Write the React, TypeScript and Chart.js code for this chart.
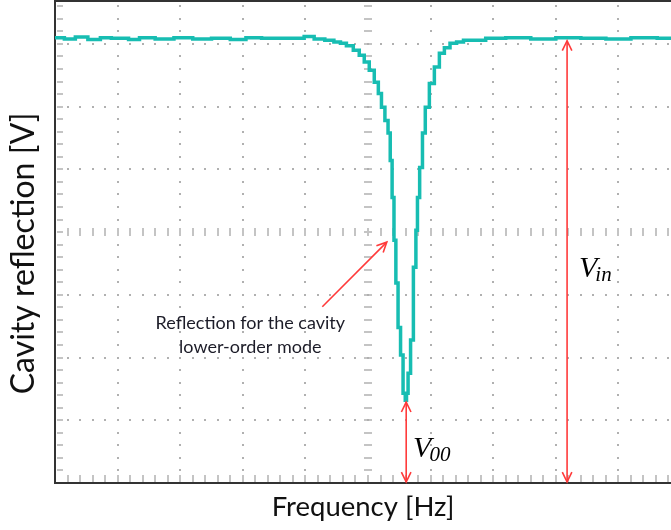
import { useEffect, useRef } from "react";
import { Chart, registerables } from "chart.js";

Chart.register(...registerables);

// Horizontal position in scope divisions (frequency sweep)
const frequency = [
  0.0, 0.3, 0.35, 0.7, 0.75, 1.05, 1.3, 1.4, 1.8, 2.0, 2.4, 2.6, 3.0, 3.1, 3.5, 3.91,
  4.05, 4.23, 4.39, 4.52, 4.6, 4.71, 4.82, 4.9, 4.98, 5.06, 5.14, 5.19, 5.24, 5.3, 5.34,
  5.37, 5.4, 5.43, 5.46, 5.5, 5.54, 5.58, 5.61, 5.62, 5.66, 5.7, 5.75, 5.78, 5.8, 5.85,
  5.89, 5.94, 6.02, 6.1, 6.18, 6.26, 6.36, 6.47, 6.58, 6.76, 7.0, 7.4, 7.8, 8.2, 8.6,
  9.0, 9.4, 9.84,
];
// Vertical position in scope divisions (cavity reflection)
const reflection = [
  7.1, 7.08, 7.11, 7.07, 7.1, 7.09, 7.07, 7.1, 7.08, 7.1, 7.08, 7.09, 7.07, 7.1, 7.09, 7.09,
  7.12, 7.08, 7.06, 7.03, 7.01, 6.97, 6.9, 6.82, 6.71, 6.58, 6.39, 6.21, 5.99, 5.78, 5.58,
  5.14, 4.55, 3.87, 3.19, 2.48, 2.04, 1.43, 1.32, 1.43, 1.75, 2.28, 3.44, 4.03, 4.55, 5.03,
  5.58, 5.99, 6.37, 6.63, 6.85, 6.94, 7.01, 7.03, 7.06, 7.06, 7.09, 7.1, 7.08, 7.1, 7.09,
  7.08, 7.1, 7.09,
];

const xRange = [0, 9.84];
const yRange = [0, 7.7];
const xDivisions = [1, 2, 3, 4, 5, 6, 7, 8, 9];
const yDivisions = [1, 2, 3, 4, 5, 6, 7];
const centerX = 5;
const centerY = 4;

const yTitle = { text: "Cavity reflection [V]", y: 3.66 };
const annotationLines = ["Reflection for the cavity", "lower-order mode"];
const annotationText = { x: 3.12, y: [2.54, 2.17] };
const pointerArrow = { from: [4.27, 2.81], to: [5.3, 3.84] };
const vinArrow = { x: 8.18, top: 7.05, bottom: 0 };
const v00Arrow = { x: 5.61, top: 1.29, bottom: 0 };
const vinLabel = { x: 8.37, y: 3.29, main: "V", sub: "in" };
const v00Label = { x: 5.72, y: 0.41, main: "V", sub: "00" };

function drawHead(ctx: CanvasRenderingContext2D, x: number, y: number, ang: number) {
  const len = 11;
  const spread = 0.45;
  ctx.beginPath();
  ctx.moveTo(x - len * Math.cos(ang - spread), y - len * Math.sin(ang - spread));
  ctx.lineTo(x, y);
  ctx.lineTo(x - len * Math.cos(ang + spread), y - len * Math.sin(ang + spread));
  ctx.stroke();
}

function arrow(
  ctx: CanvasRenderingContext2D,
  x1: number, y1: number, x2: number, y2: number,
  startHead: boolean, endHead: boolean
) {
  ctx.beginPath();
  ctx.moveTo(x1, y1);
  ctx.lineTo(x2, y2);
  ctx.stroke();
  const ang = Math.atan2(y2 - y1, x2 - x1);
  if (endHead) drawHead(ctx, x2, y2, ang);
  if (startHead) drawHead(ctx, x1, y1, ang + Math.PI);
}

const scopeGrid = {
  id: "scopeGrid",
  beforeDatasetsDraw(chart: any) {
    const { ctx, chartArea } = chart;
    const xs = chart.scales.x;
    const ys = chart.scales.y;
    const { left, right, top, bottom } = chartArea;
    ctx.save();
    for (const d of xDivisions) {
      const px = Math.round(xs.getPixelForValue(d));
      for (let v = 0.2; v < yRange[1]; v += 0.2) {
        const py = Math.round(ys.getPixelForValue(v));
        if (d === centerX) {
          ctx.fillStyle = "#c4c4c4";
          ctx.fillRect(px - 4, py - 1, 8, 2);
        } else {
          ctx.fillStyle = "#b0b0b0";
          ctx.fillRect(px - 1, py - 1, 2, 2);
        }
      }
    }
    for (const d of yDivisions) {
      const py = Math.round(ys.getPixelForValue(d));
      for (let v = 0.2; v < xRange[1]; v += 0.2) {
        const px = Math.round(xs.getPixelForValue(v));
        if (d === centerY) {
          ctx.fillStyle = "#c4c4c4";
          ctx.fillRect(px - 1, py - 4, 2, 8);
        } else {
          ctx.fillStyle = "#b0b0b0";
          ctx.fillRect(px - 1, py - 1, 2, 2);
        }
      }
    }
    ctx.fillStyle = "#c4c4c4";
    for (let v = 0.2; v < yRange[1]; v += 0.2) {
      const py = Math.round(ys.getPixelForValue(v));
      ctx.fillRect(left + 2, py - 1, 6, 2);
    }
    for (let v = 0.2; v < xRange[1]; v += 0.2) {
      const px = Math.round(xs.getPixelForValue(v));
      ctx.fillRect(px - 1, bottom - 8, 2, 7);
    }
    ctx.strokeStyle = "#333";
    ctx.lineWidth = 2;
    ctx.beginPath();
    ctx.moveTo(right + 2, top + 1);
    ctx.lineTo(left, top + 1);
    ctx.lineTo(left, bottom);
    ctx.lineTo(right + 2, bottom);
    ctx.stroke();
    ctx.restore();
  },
  afterDatasetsDraw(chart: any) {
    const { ctx } = chart;
    const xs = chart.scales.x;
    const ys = chart.scales.y;
    const X = (v: number) => xs.getPixelForValue(v);
    const Y = (v: number) => ys.getPixelForValue(v);
    ctx.save();
    ctx.strokeStyle = "#ff3a3a";
    ctx.lineWidth = 1.6;
    arrow(ctx, X(pointerArrow.from[0]), Y(pointerArrow.from[1]), X(pointerArrow.to[0]), Y(pointerArrow.to[1]), false, true);
    arrow(ctx, X(vinArrow.x), Y(vinArrow.top), X(vinArrow.x), Y(vinArrow.bottom) - 1, true, true);
    arrow(ctx, X(v00Arrow.x), Y(v00Arrow.top), X(v00Arrow.x), Y(v00Arrow.bottom) - 1, true, true);

    ctx.fillStyle = "#1c1c28";
    ctx.font = "18px Lato";
    ctx.textAlign = "center";
    ctx.textBaseline = "middle";
    annotationLines.forEach((t, i) => ctx.fillText(t, X(annotationText.x), Y(annotationText.y[i])));

    ctx.fillStyle = "#000";
    ctx.textAlign = "left";
    ctx.textBaseline = "alphabetic";
    for (const lab of [vinLabel, v00Label]) {
      ctx.font = "italic 30px 'Liberation Serif'";
      const x0 = X(lab.x);
      const y0 = Y(lab.y);
      ctx.fillText(lab.main, x0, y0);
      const w = ctx.measureText(lab.main).width;
      ctx.font = "italic 21px 'Liberation Serif'";
      ctx.fillText(lab.sub, x0 + w - 2, y0 + 4);
    }

    // y axis title (placed slightly below the axis centre, as in the original)
    ctx.translate(24, Y(yTitle.y));
    ctx.rotate(-Math.PI / 2);
    ctx.fillStyle = "#111";
    ctx.font = "32px Lato";
    ctx.textAlign = "center";
    ctx.textBaseline = "middle";
    ctx.fillText(yTitle.text, 0, 0);
    ctx.restore();
  },
};

export default function App() {
  const ref = useRef<HTMLCanvasElement>(null);
  useEffect(() => {
    if (!ref.current) return;
    const chart = new Chart(ref.current, {
      type: "line",
      data: {
        datasets: [
          {
            data: frequency.map((f, i) => ({ x: f, y: reflection[i] })),
            borderColor: "#17bdb2",
            borderWidth: 3.5,
            pointRadius: 0,
            stepped: "middle",
            fill: false,
          },
        ],
      },
      options: {
        animation: false,
        responsive: false,
        events: [],
        layout: { padding: 0 },
        plugins: { legend: { display: false }, tooltip: { enabled: false } },
        scales: {
          x: {
            type: "linear",
            min: xRange[0],
            max: xRange[1],
            grid: { display: false },
            border: { display: false },
            ticks: { display: false },
            title: {
              display: true,
              text: "Frequency [Hz]",
              color: "#111",
              font: { family: "Lato", size: 27.5 },
              padding: { top: 6, bottom: 6 },
            },
            afterFit: (s: any) => {
              s.height = 47;
            },
          },
          y: {
            type: "linear",
            min: yRange[0],
            max: yRange[1],
            grid: { display: false },
            border: { display: false },
            ticks: { display: false },
            title: { display: false },
            afterFit: (s: any) => {
              s.width = 55;
            },
          },
        },
      },
      plugins: [scopeGrid],
    });
    return () => chart.destroy();
  }, []);
  return (
    <div
      style={{
        position: "fixed",
        left: 0,
        top: 0,
        width: 671,
        height: 530,
        overflow: "hidden",
        background: "#fff",
      }}
    >
      <canvas ref={ref} width={671} height={530} style={{ display: "block" }} />
    </div>
  );
}
